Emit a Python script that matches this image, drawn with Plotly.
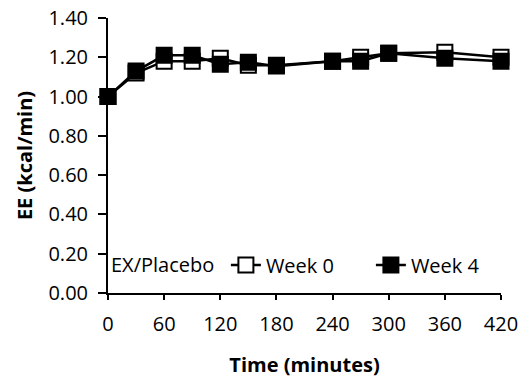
import plotly.graph_objects as go

time_min = [0, 30, 60, 90, 120, 150, 180, 240, 270, 300, 360, 420]
week0 = [1.00, 1.12, 1.18, 1.18, 1.195, 1.16, 1.16, 1.18, 1.20, 1.22, 1.225, 1.20]
week4 = [1.00, 1.13, 1.21, 1.21, 1.165, 1.175, 1.155, 1.18, 1.18, 1.22, 1.195, 1.18]
x_ticks = [0, 60, 120, 180, 240, 300, 360, 420]
y_ticks = [0.0, 0.2, 0.4, 0.6, 0.8, 1.0, 1.2, 1.4]
legend_title = "EX/Placebo"

FONT = "Open Sans"

fig = go.Figure()
fig.add_trace(go.Scatter(
    x=time_min, y=week0, name="Week 0", mode="lines+markers",
    line=dict(color="black", width=2.5),
    marker=dict(symbol="square", size=15, color="white", line=dict(color="black", width=2)),
    cliponaxis=False,
))
fig.add_trace(go.Scatter(
    x=time_min, y=week4, name="Week 4", mode="lines+markers",
    line=dict(color="black", width=2.5),
    marker=dict(symbol="square", size=15, color="black", line=dict(color="black", width=2)),
    cliponaxis=False,
))

fig.add_annotation(
    text=legend_title, xref="paper", yref="paper", x=0.002, y=0.102,
    xanchor="left", yanchor="middle", showarrow=False, font=dict(size=20),
)

fig.update_layout(
    width=528, height=378,
    margin=dict(l=108, r=24, t=18, b=85),
    plot_bgcolor="white", paper_bgcolor="white",
    font=dict(family=FONT, size=20, color="black"),
    legend=dict(
        orientation="h", x=0.3, y=0.102, xanchor="left", yanchor="middle",
        font=dict(size=20), bgcolor="rgba(0,0,0,0)",
        itemwidth=30, tracegroupgap=0,
        entrywidth=100, entrywidthmode="pixels",
    ),
    xaxis=dict(
        range=[0, 420], tickvals=x_ticks, ticktext=[str(v) for v in x_ticks],
        showline=True, linecolor="black", linewidth=2,
        ticks="outside", ticklen=5, tickwidth=1.5, tickcolor="black",
        ticklabelstandoff=7, automargin=False,
        showgrid=False, zeroline=False,
        title=dict(text="<b>Time (minutes)</b>", font=dict(size=20), standoff=22),
    ),
    yaxis=dict(
        range=[0, 1.4], tickvals=y_ticks, ticktext=[f"{v:.2f}" for v in y_ticks],
        showline=True, linecolor="black", linewidth=2,
        ticks="outside", ticklen=8, tickwidth=1.5, tickcolor="black",
        ticklabelstandoff=6, automargin=False,
        showgrid=False, zeroline=False,
        title=dict(text="<b>EE (kcal/min)</b>", font=dict(size=20), standoff=10),
    ),
)

fig.write_html("out.html", config={"displayModeBar": False},
               post_script="document.body.style.margin='0';")
